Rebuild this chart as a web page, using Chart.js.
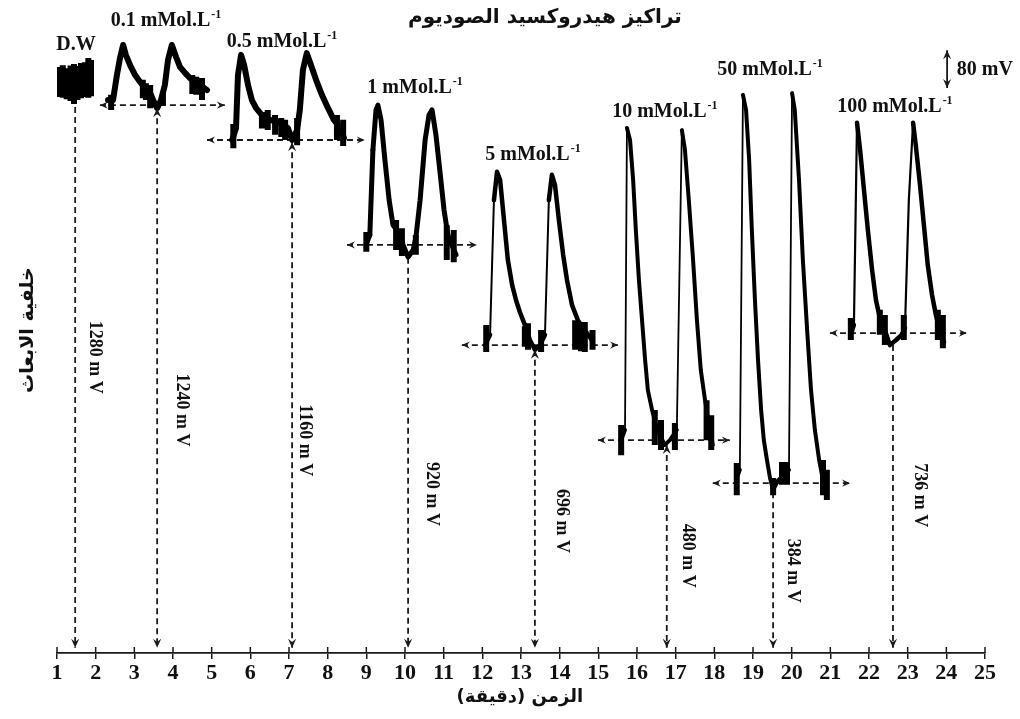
<!DOCTYPE html>
<html>
<head>
<meta charset="utf-8">
<script src="https://cdn.jsdelivr.net/npm/chart.js@4.4.0/dist/chart.umd.min.js"></script>
<style>
  html, body { margin: 0; padding: 0; background: #fff; }
  canvas { display: block; }
</style>
</head>
<body>
<canvas id="myChart" width="1020" height="719"></canvas>
<script>
// x axis tick labels (minutes)
var minutes = [1, 2, 3, 4, 5, 6, 7, 8, 9, 10, 11, 12, 13, 14, 15, 16, 17, 18, 19, 20, 21, 22, 23, 24, 25];

// groups and the baseline readings written under each drop line
var groups = ['D.W', '0.1', '0.5', '1', '5', '10', '50', '100'];
var readings = ['1280 m V', '1240 m V', '1160 m V', '920 m V', '696 m V', '480 m V', '384 m V', '736 m V'];

// vertical drop lines: time of the baseline minimum, level where it starts
var dropT = [1.47, 3.59, 7.08, 10.08, 13.36, 16.77, 19.52, 22.62];
var dropTop = [1270, 1267, 1188, 919, 705, 484, 374, 716];
var dropBottom = 12;
var dropUp = [false, true, true, false, true, true, false, false];

// horizontal baselines (0.1 ... 100)
var baseV = [1274, 1193, 949, 716, 495, 395, 744];
var baseFrom = [2.11, 4.88, 8.50, 11.47, 14.99, 17.96, 20.99];
var baseTo = [5.34, 8.96, 11.86, 15.51, 18.40, 21.51, 24.53];

// traces, two injections per concentration
var g01T = [2.32, 2.45, 2.55, 2.63, 2.71, 2.78, 2.89, 3.02, 3.15, 3.28, 3.41, 3.51, 3.59, 3.69, 3.79, 3.87, 3.97, 4.08, 4.18, 4.31, 4.44, 4.57, 4.70, 4.88];
var g01V = [1286, 1286, 1344, 1384, 1414, 1391, 1367, 1344, 1328, 1314, 1302, 1281, 1267, 1286, 1321, 1379, 1414, 1386, 1363, 1349, 1337, 1328, 1321, 1309];
var g05T = [5.53, 5.63, 5.68, 5.76, 5.84, 5.94, 6.04, 6.15, 6.30, 6.51, 6.77, 6.97, 7.08, 7.21, 7.28, 7.36, 7.46, 7.57, 7.70, 7.85, 8.01, 8.16, 8.32, 8.42];
var g05V = [1193, 1221, 1344, 1391, 1367, 1321, 1286, 1267, 1251, 1240, 1233, 1221, 1193, 1216, 1263, 1356, 1395, 1367, 1333, 1298, 1267, 1240, 1221, 1198];
var g1T = [8.99, 9.09, 9.17, 9.25, 9.30, 9.38, 9.48, 9.59, 9.69, 9.82, 9.95, 10.08, 10.21, 10.28, 10.39, 10.52, 10.62, 10.70, 10.80, 10.90, 11.01, 11.11, 11.21, 11.32];
var g1V = [949, 972, 1170, 1263, 1274, 1240, 1147, 1053, 995, 979, 949, 921, 937, 965, 1053, 1193, 1251, 1263, 1205, 1123, 1030, 972, 949, 926];
var g5T = [12.07, 12.20, 12.30, 12.38, 12.46, 12.56, 12.66, 12.77, 12.87, 12.97, 13.10, 13.23, 13.36, 13.49, 13.62, 13.72, 13.80, 13.88, 13.98, 14.09, 14.19, 14.32, 14.47, 14.65, 14.83];
var g5V = [716, 740, 1053, 1119, 1100, 1007, 914, 856, 821, 793, 763, 728, 705, 716, 740, 1053, 1112, 1088, 1007, 926, 867, 809, 774, 751, 728];
var g10T = [15.59, 15.69, 15.74, 15.82, 15.90, 15.97, 16.05, 16.13, 16.21, 16.28, 16.39, 16.49, 16.59, 16.72, 16.85, 17.03, 17.16, 17.24, 17.34, 17.45, 17.55, 17.65, 17.76, 17.86, 17.96];
var g10V = [495, 519, 1221, 1193, 1100, 984, 867, 774, 681, 612, 565, 530, 507, 484, 495, 519, 1216, 1170, 1053, 914, 774, 658, 588, 530, 484];
var g50T = [18.56, 18.66, 18.74, 18.82, 18.90, 18.97, 19.05, 19.13, 19.21, 19.28, 19.36, 19.44, 19.52, 19.65, 19.80, 19.93, 20.01, 20.08, 20.19, 20.29, 20.40, 20.50, 20.60, 20.71, 20.81, 20.91];
var g50V = [402, 426, 1298, 1263, 1147, 984, 821, 681, 565, 495, 449, 407, 379, 402, 414, 426, 1302, 1263, 1100, 914, 751, 612, 519, 449, 402, 367];
var g100T = [21.53, 21.61, 21.69, 21.77, 21.87, 21.97, 22.08, 22.18, 22.28, 22.41, 22.54, 22.70, 22.85, 22.93, 23.03, 23.14, 23.21, 23.32, 23.42, 23.52, 23.63, 23.73, 23.83, 23.94];
var g100V = [740, 763, 1233, 1170, 1077, 984, 891, 821, 779, 751, 716, 728, 740, 756, 1053, 1233, 1181, 1088, 995, 902, 833, 786, 751, 723];

// noisy blocks on the traces (time, low, high)
var blockT = [1.05, 1.15, 1.25, 1.35, 1.44, 1.53, 1.62, 1.72, 1.81, 1.88,
  2.40, 3.22, 3.30, 3.41, 3.74, 4.50, 4.60, 4.75,
  5.56, 6.30, 6.45, 6.64, 6.80, 6.90, 7.21, 8.24, 8.40,
  9.00, 9.77, 9.92, 10.28, 11.08, 11.26,
  12.10, 13.10, 13.18, 13.52, 14.40, 14.55, 14.65, 14.85,
  15.59, 16.46, 16.62, 16.98, 17.80, 17.92,
  18.58, 19.52, 19.75, 19.88, 20.81, 20.91,
  21.53, 22.28, 22.41, 22.90, 23.78, 23.91];
var blockLo = [1293, 1291, 1288, 1284, 1277, 1286, 1290, 1293, 1291, 1295,
  1263, 1290, 1286, 1267, 1274, 1300, 1298, 1286,
  1174, 1220, 1216, 1205, 1200, 1193, 1181, 1193, 1179,
  933, 937, 923, 926, 914, 909,
  700, 712, 705, 700, 705, 702, 700, 705,
  460, 484, 472, 472, 495, 472,
  367, 367, 391, 391, 367, 356,
  728, 740, 716, 728, 728, 709];
var blockHi = [1363, 1367, 1360, 1366, 1370, 1365, 1372, 1374, 1384, 1379,
  1298, 1333, 1325, 1321, 1305, 1344, 1340, 1337,
  1230, 1258, 1263, 1251, 1244, 1240, 1244, 1251, 1240,
  979, 1007, 988, 972, 995, 984,
  763, 760, 767, 751, 774, 766, 770, 751,
  530, 565, 542, 535, 588, 553,
  442, 407, 444, 444, 449, 426,
  779, 798, 786, 786, 798, 786];

// 80 mV scale bar
var barT = 24.02;
var barV = [1314, 1402];

var ink = '#111';
var dashInk = '#1a1a1a';
var serif = '"Liberation Serif", "Times New Roman", serif';
var arabic = '"DejaVu Sans", sans-serif';

function pts(T, V) {
  return T.map(function (t, i) { return { x: t, y: V[i] }; });
}

var datasets = [];

// trace: [times, values, width, width of the fast rise]
[[g01T, g01V, 6, 6], [g05T, g05V, 6, 6], [g1T, g1V, 5, 5], [g5T, g5V, 4.5, 2],
 [g10T, g10V, 4, 1.8], [g50T, g50V, 4, 1.8], [g100T, g100V, 4.5, 2.2]].forEach(function (tr) {
  var rise = tr[3];
  datasets.push({
    data: pts(tr[0], tr[1]),
    borderColor: '#000',
    borderWidth: tr[2],
    borderJoinStyle: 'round',
    borderCapStyle: 'round',
    pointRadius: 0,
    segment: {
      borderWidth: function (c) { return c.p1.parsed.y - c.p0.parsed.y > 150 ? rise : undefined; }
    }
  });
});

var blockPts = [];
blockT.forEach(function (t, i) {
  blockPts.push({ x: t, y: blockLo[i] }, { x: t, y: blockHi[i] }, { x: t, y: null });
});
datasets.push({
  data: blockPts,
  borderColor: '#000',
  borderWidth: 6,
  borderCapStyle: 'butt',
  spanGaps: false,
  pointRadius: 0
});

baseV.forEach(function (v, i) {
  datasets.push({
    data: [{ x: baseFrom[i], y: v }, { x: baseTo[i], y: v }],
    borderColor: dashInk,
    borderWidth: 1.8,
    borderDash: [6, 4],
    pointRadius: 0,
    arrows: 'both',
    head: 8
  });
});

dropT.forEach(function (t, i) {
  datasets.push({
    data: [{ x: t, y: dropTop[i] }, { x: t, y: dropBottom }],
    borderColor: dashInk,
    borderWidth: 1.8,
    borderDash: [6, 4],
    pointRadius: 0,
    arrows: dropUp[i] ? 'both' : 'end',
    head: 9
  });
});

datasets.push({
  data: [{ x: barT, y: barV[0] }, { x: barT, y: barV[1] }],
  borderColor: dashInk,
  borderWidth: 1.8,
  pointRadius: 0,
  arrows: 'both',
  head: 9
});

// text notes (anchored in data units)
var notes = [
  { text: 'D.W', sup: '', t: 1.49, v: 1414 },
  { text: '0.1 mMol.L', sup: '-1', t: 3.82, v: 1470 },
  { text: '0.5 mMol.L', sup: '-1', t: 6.82, v: 1421 },
  { text: '1 mMol.L', sup: '-1', t: 10.26, v: 1314 },
  { text: '5 mMol.L', sup: '-1', t: 13.31, v: 1158 },
  { text: '10 mMol.L', sup: '-1', t: 16.72, v: 1258 },
  { text: '50 mMol.L', sup: '-1', t: 19.44, v: 1356 },
  { text: '100 mMol.L', sup: '-1', t: 22.67, v: 1270 }
];
var readingAt = [[1.98, 688], [4.23, 565], [7.41, 495], [10.70, 370], [14.06, 307], [17.32, 226], [20.03, 191], [23.32, 367]];

function arrowHead(ctx, from, to, size) {
  var ang = Math.atan2(to.y - from.y, to.x - from.x);
  ctx.save();
  ctx.translate(to.x, to.y);
  ctx.rotate(ang);
  ctx.beginPath();
  ctx.moveTo(0, 0);
  ctx.lineTo(-size, -size * 0.45);
  ctx.lineTo(-size * 0.65, 0);
  ctx.lineTo(-size, size * 0.45);
  ctx.closePath();
  ctx.fill();
  ctx.restore();
}

var arrowPlugin = {
  id: 'arrows',
  afterDatasetsDraw: function (chart) {
    var ctx = chart.ctx;
    ctx.save();
    ctx.fillStyle = dashInk;
    chart.data.datasets.forEach(function (ds, i) {
      if (!ds.arrows) return;
      var p = chart.getDatasetMeta(i).data;
      var a = p[0], b = p[p.length - 1];
      arrowHead(ctx, a, b, ds.head);
      if (ds.arrows === 'both') arrowHead(ctx, b, a, ds.head);
    });
    ctx.restore();
  }
};

var textPlugin = {
  id: 'texts',
  afterDraw: function (chart) {
    var ctx = chart.ctx, xs = chart.scales.x, ys = chart.scales.y, area = chart.chartArea;
    ctx.save();

    // upper half of every tick mark
    ctx.strokeStyle = dashInk;
    ctx.lineWidth = 1.5;
    xs.ticks.forEach(function (tk) {
      var px = xs.getPixelForValue(tk.value);
      ctx.beginPath();
      ctx.moveTo(px, area.bottom - 6);
      ctx.lineTo(px, area.bottom);
      ctx.stroke();
    });

    ctx.fillStyle = ink;
    ctx.textBaseline = 'middle';

    // concentration labels with superscript
    notes.forEach(function (n) {
      var cx = xs.getPixelForValue(n.t), cy = ys.getPixelForValue(n.v);
      ctx.font = 'bold 20px ' + serif;
      var w1 = ctx.measureText(n.text).width;
      ctx.font = 'bold 12px ' + serif;
      var w2 = n.sup ? ctx.measureText(n.sup).width + 1 : 0;
      var x0 = cx - (w1 + w2) / 2;
      ctx.textAlign = 'left';
      ctx.font = 'bold 20px ' + serif;
      ctx.fillText(n.text, x0, cy);
      if (n.sup) {
        ctx.font = 'bold 12px ' + serif;
        ctx.fillText(n.sup, x0 + w1 + 1, cy - 6);
      }
    });

    // baseline readings, rotated
    ctx.font = 'bold 18px ' + serif;
    ctx.textAlign = 'center';
    readings.forEach(function (r, i) {
      ctx.save();
      ctx.translate(xs.getPixelForValue(readingAt[i][0]), ys.getPixelForValue(readingAt[i][1]));
      ctx.rotate(Math.PI / 2);
      ctx.fillText(r, 0, 0);
      ctx.restore();
    });

    // scale bar label
    ctx.font = 'bold 20px ' + serif;
    ctx.textAlign = 'left';
    ctx.fillText('80 mV', xs.getPixelForValue(24.27), ys.getPixelForValue(1356));

    // arabic titles
    ctx.direction = 'rtl';
    ctx.textAlign = 'center';
    ctx.font = 'bold 20px ' + arabic;
    ctx.fillText('تراكيز هيدروكسيد الصوديوم', xs.getPixelForValue(13.62), ys.getPixelForValue(1477));
    ctx.font = 'bold 18px ' + arabic;
    ctx.fillText('الزمن (دقيقة)', xs.getPixelForValue(12.97), ys.getPixelForValue(-102));
    ctx.save();
    ctx.translate(xs.getPixelForValue(0.25), ys.getPixelForValue(751));
    ctx.rotate(-Math.PI / 2);
    ctx.font = 'bold 19px ' + arabic;
    ctx.fillText('خلفية الابعاث', 0, 0);
    ctx.restore();

    ctx.restore();
  }
};

var ctx = document.getElementById('myChart');
var myChart = new Chart(ctx, {
  type: 'line',
  data: { datasets: datasets },
  options: {
    responsive: false,
    animation: false,
    layout: { padding: { left: 57, right: 35, top: 16.6, bottom: 0 } },
    plugins: { legend: { display: false }, tooltip: { enabled: false } },
    scales: {
      x: {
        type: 'linear',
        min: 1,
        max: 25,
        afterBuildTicks: function (s) { s.ticks = minutes.map(function (m) { return { value: m }; }); },
        afterFit: function (s) { s.height = 66; },
        grid: { display: true, drawOnChartArea: false, drawTicks: true, tickLength: 6, color: dashInk, lineWidth: 1.5 },
        border: { display: true, color: dashInk, width: 1.8 },
        ticks: { autoSkip: false, maxRotation: 0, padding: 1, color: ink, font: { family: serif, size: 22, weight: 'bold' } }
      },
      y: { display: false, min: 0, max: 1480 }
    }
  },
  plugins: [arrowPlugin, textPlugin]
});
</script>
</body>
</html>
